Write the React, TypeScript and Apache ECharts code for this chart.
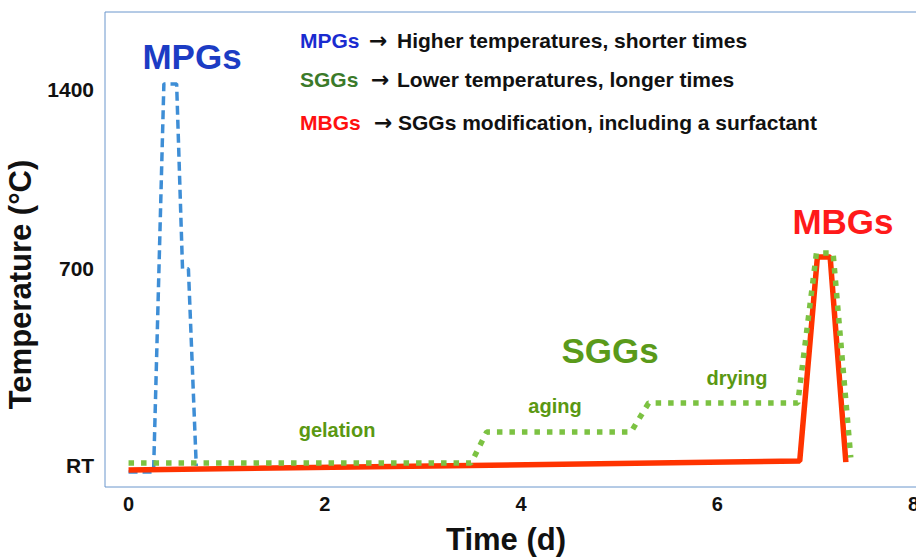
import React, { useEffect, useRef } from "react";
import * as echarts from "echarts";

// Time (d) vs. drawn temperature level (schematic; RT drawn below the 0-700 spacing)
const RT_LEVEL = -68;
const xTickValues = [0, 2, 4, 6, 8];
const yTickValues = [RT_LEVEL, 700, 1400];

const mpgsData = [
  [0, -92], [0.255, -92], [0.36, 1420], [0.49, 1420],
  [0.55, 700], [0.61, 700], [0.69, RT_LEVEL],
];
const mbgsData = [
  [0, -84], [6.84, -49], [7.02, 746], [7.15, 746], [7.31, -53],
];
const sggsData = [
  [0, -57], [3.49, -57], [3.65, 64], [5.12, 64], [5.3, 177],
  [6.82, 177], [7.01, 761], [7.18, 761], [7.36, -35],
];

const legendLines = [
  { key: "MPGs", color: "#1a2bd0", text: "Higher temperatures, shorter times" },
  { key: "SGGs", color: "#3b7a2a", text: "Lower temperatures, longer times" },
  { key: "MBGs", color: "#ff1010", text: "SGGs modification, including a surfactant" },
];

const FONT = "'Liberation Sans', Arial, sans-serif";

export default function App() {
  const ref = useRef<HTMLDivElement>(null);
  useEffect(() => {
    if (!ref.current) return;
    const chart = echarts.init(ref.current, null, { renderer: "svg" });
    const legendY = [40, 79, 122];
    const arrowX = [369, 371, 374];
    const textX = [397, 397, 398];
    const graphics: any[] = [];
    legendLines.forEach((l, i) => {
      graphics.push({
        type: "text",
        x: 300,
        y: legendY[i],
        style: {
          text: l.key, fill: l.color, font: `bold 21px ${FONT}`,
          textVerticalAlign: "middle",
        },
      });
      graphics.push({
        type: "text",
        x: arrowX[i],
        y: legendY[i],
        style: {
          text: "\u2192", fill: "#111", font: "bold 22px 'DejaVu Sans', sans-serif",
          textVerticalAlign: "middle",
        },
      });
      graphics.push({
        type: "text",
        x: textX[i],
        y: legendY[i],
        style: {
          text: l.text, fill: "#111", font: `bold 21px ${FONT}`,
          textVerticalAlign: "middle",
        },
      });
    });
    const big = [
      { t: "MPGs", x: 192, y: 56, c: "#1c3cc4" },
      { t: "MBGs", x: 843, y: 221, c: "#ff1a1a" },
      { t: "SGGs", x: 610, y: 350, c: "#5a9a1a" },
    ];
    big.forEach((b) => {
      graphics.push({
        type: "text",
        x: b.x,
        y: b.y,
        style: {
          text: b.t, fill: b.c, font: `bold 35px ${FONT}`,
          textAlign: "center", textVerticalAlign: "middle",
        },
      });
    });
    const small = [
      { t: "gelation", x: 337, y: 430 },
      { t: "aging", x: 555, y: 406 },
      { t: "drying", x: 737, y: 378 },
    ];
    small.forEach((s) => {
      graphics.push({
        type: "text",
        x: s.x,
        y: s.y,
        style: {
          text: s.t, fill: "#5a9812", font: `bold 20px ${FONT}`,
          textAlign: "center", textVerticalAlign: "middle",
        },
      });
    });

    chart.setOption({
      animation: false,
      backgroundColor: "#ffffff",
      textStyle: { fontFamily: FONT },
      grid: {
        left: 105,
        top: 12,
        height: 475,
        width: 838,
        outerBoundsMode: "none",
        containLabel: false,
        show: true,
        borderColor: "#6a96cc",
        borderWidth: 1,
        backgroundColor: "transparent",
      },
      xAxis: {
        type: "value",
        min: -0.24,
        max: 8.3,
        name: "Time (d)",
        nameLocation: "middle",
        nameGap: 37,
        nameTextStyle: {
          fontSize: 31, fontWeight: "bold", color: "#111", fontFamily: FONT,
          padding: [0, 36, 0, 0],
        },
        axisLine: { show: false },
        axisTick: { show: false },
        splitLine: { show: false },
        axisLabel: {
          customValues: xTickValues,
          fontSize: 20, fontWeight: "bold", color: "#111", margin: 7, fontFamily: FONT,
        },
      },
      yAxis: {
        type: "value",
        min: -150,
        max: 1700,
        name: "Temperature (\u00b0C)",
        nameLocation: "middle",
        nameGap: 60,
        nameTextStyle: {
          fontSize: 31, fontWeight: "bold", color: "#111", fontFamily: FONT,
          padding: [0, 70, 0, 0],
        },
        axisLine: { show: false },
        axisTick: { show: false },
        splitLine: { show: false },
        axisLabel: {
          customValues: yTickValues,
          formatter: (v: number) => (v === RT_LEVEL ? "RT" : String(v)),
          fontSize: 21, fontWeight: "bold", color: "#111", margin: 11, fontFamily: FONT,
        },
      },
      series: [
        {
          name: "MPGs",
          type: "line",
          data: mpgsData,
          symbol: "none",
          lineStyle: { color: "#3e8ed6", width: 3.5, type: [9, 5] },
        },
        {
          name: "MBGs",
          type: "line",
          data: mbgsData,
          symbol: "none",
          lineStyle: { color: "#ff3300", width: 5.5 },
        },
        {
          name: "SGGs",
          type: "line",
          data: sggsData,
          symbol: "none",
          lineStyle: { color: "#7cc242", width: 5.5, type: [5.5, 7] },
        },
      ],
      graphic: graphics,
    });
    return () => chart.dispose();
  }, []);
  return (
    <div
      ref={ref}
      style={{ position: "fixed", left: 0, top: 0, width: 916, height: 557 }}
    />
  );
}
